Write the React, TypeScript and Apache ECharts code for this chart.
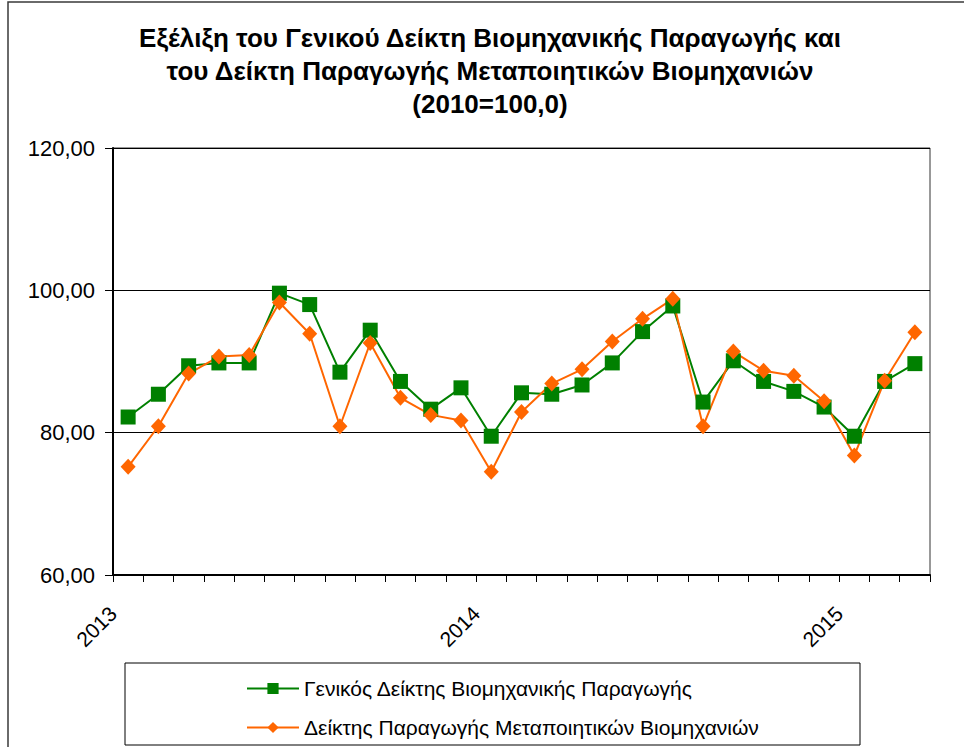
import React, { useEffect, useRef } from "react";
import * as echarts from "echarts";

const FONT = "'Liberation Sans', Arial, sans-serif";

const titleLines = [
  "Εξέλιξη του Γενικού Δείκτη Βιομηχανικής Παραγωγής και",
  "του Δείκτη Παραγωγής Μεταποιητικών Βιομηχανιών",
  "(2010=100,0)",
];

const months = [
  "2013-01", "2013-02", "2013-03", "2013-04", "2013-05", "2013-06",
  "2013-07", "2013-08", "2013-09", "2013-10", "2013-11", "2013-12",
  "2014-01", "2014-02", "2014-03", "2014-04", "2014-05", "2014-06",
  "2014-07", "2014-08", "2014-09", "2014-10", "2014-11", "2014-12",
  "2015-01", "2015-02", "2015-03",
];

const yearLabels = ["2013", "2014", "2015"];

const seriesNames = [
  "Γενικός Δείκτης Βιομηχανικής Παραγωγής",
  "Δείκτης Παραγωγής Μεταποιητικών Βιομηχανιών",
];

const generalIndex = [
  82.2, 85.4, 89.4, 89.8, 89.8, 99.6, 98.0, 88.5, 94.4, 87.2, 83.3, 86.3,
  79.5, 85.6, 85.4, 86.7, 89.8, 94.2, 97.8, 84.3, 90.1, 87.2, 85.8, 83.6,
  79.5, 87.2, 89.7,
];

const manufacturingIndex = [
  75.2, 80.9, 88.3, 90.7, 90.9, 98.3, 93.9, 80.9, 92.6, 84.9, 82.5, 81.7,
  74.5, 82.9, 86.9, 88.9, 92.8, 96.0, 98.8, 80.9, 91.4, 88.7, 88.0, 84.4,
  76.8, 87.3, 94.1,
];

export default function App() {
  const ref = useRef<HTMLDivElement>(null);

  useEffect(() => {
    if (!ref.current) return;
    const chart = echarts.init(ref.current, undefined, { renderer: "svg" });
    chart.setOption({
      animation: false,
      backgroundColor: "#ffffff",
      textStyle: { fontFamily: FONT },
      graphic: [
        {
          type: "rect",
          shape: { x: 8, y: 2, width: 1000, height: 800 },
          style: { fill: "none", stroke: "#3a3a3a", lineWidth: 1.5 },
          silent: true,
        },
        {
          type: "rect",
          shape: { x: 125, y: 663, width: 735, height: 82 },
          style: { fill: "none", stroke: "#000", lineWidth: 1 },
          silent: true,
        },
        {
          type: "text",
          x: 490,
          y: 71,
          style: {
            text: titleLines.join("\n"),
            textAlign: "center",
            textVerticalAlign: "middle",
            fontFamily: FONT,
            fontWeight: "bold",
            fontSize: 26,
            lineHeight: 33,
            fill: "#000",
          },
        },
      ],
      legend: {
        orient: "vertical",
        left: 241,
        top: 673,
        itemWidth: 52,
        itemHeight: 14,
        itemGap: 18,
        textStyle: { fontSize: 21, color: "#000", fontFamily: FONT, lineHeight: 21 },
        data: seriesNames,
      },
      grid: {
        left: 113,
        top: 148,
        right: 34,
        bottom: 172,
        show: true,
        borderColor: "#333",
        borderWidth: 1,
      },
      xAxis: [
        {
          type: "category",
          data: months,
          boundaryGap: true,
          axisLine: { lineStyle: { color: "#000", width: 2 } },
          axisTick: { show: true, interval: 0, length: 7, lineStyle: { color: "#000", width: 1 } },
          axisLabel: { show: false },
          splitLine: { show: false },
        },
        {
          type: "value",
          position: "bottom",
          min: 0,
          max: months.length,
          interval: 12,
          axisLine: { show: false },
          axisTick: { show: false },
          splitLine: { show: false },
          axisLabel: {
            rotate: 45,
            margin: 35,
            fontSize: 21,
            color: "#000",
            fontFamily: FONT,
            formatter: (v: number) => (v % 12 === 0 ? yearLabels[v / 12] ?? "" : ""),
          },
        },
      ],
      yAxis: {
        type: "value",
        min: 60,
        max: 120,
        interval: 20,
        axisLine: { show: true, lineStyle: { color: "#000", width: 2 } },
        axisTick: { show: true, length: 8, lineStyle: { color: "#000" } },
        axisLabel: {
          margin: 18,
          fontSize: 22,
          color: "#000",
          fontFamily: FONT,
          formatter: (v: number) => v.toFixed(2).replace(".", ","),
        },
        splitLine: { show: true, lineStyle: { color: "#000", width: 1 } },
      },
      series: [
        {
          name: seriesNames[0],
          type: "line",
          xAxisIndex: 0,
          data: generalIndex,
          symbol: "rect",
          symbolSize: 15,
          itemStyle: { color: "#008000" },
          lineStyle: { color: "#008000", width: 2 },
        },
        {
          name: seriesNames[1],
          type: "line",
          xAxisIndex: 0,
          data: manufacturingIndex,
          symbol: "diamond",
          symbolSize: [15, 16],
          itemStyle: { color: "#FF6600" },
          lineStyle: { color: "#FF6600", width: 2 },
        },
      ],
    });
    return () => chart.dispose();
  }, []);

  return (
    <div
      ref={ref}
      style={{ position: "absolute", left: 0, top: 0, width: 964, height: 747 }}
    />
  );
}
